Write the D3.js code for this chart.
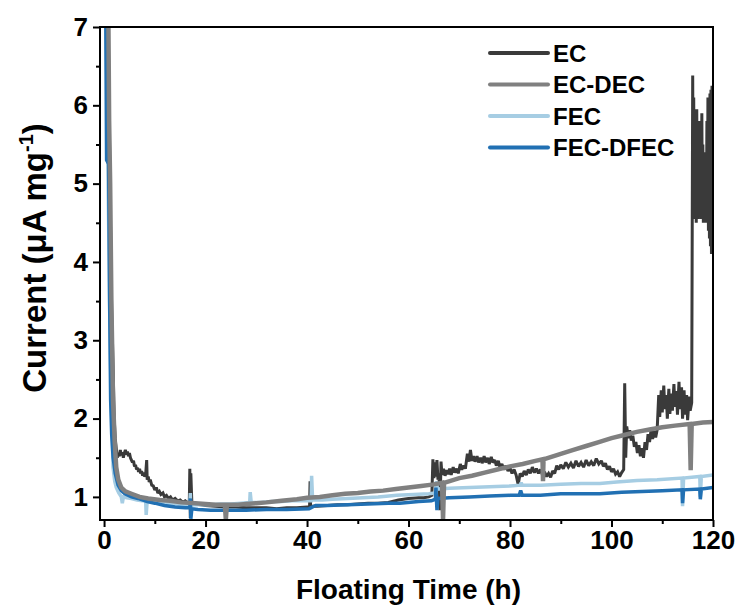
<!DOCTYPE html>
<html>
<head>
<meta charset="utf-8">
<script src="https://cdn.jsdelivr.net/npm/d3@7"></script>
<style>
  html, body { margin: 0; padding: 0; background: #fff; }
  svg { display: block; font-family: "Liberation Sans", Arial, sans-serif; font-weight: bold; }
</style>
</head>
<body>
<svg id="chart" width="740" height="612"></svg>
<script>
// Floating current (µA mg⁻¹) versus floating time (h), [time, current] pairs per electrolyte
const EC = [
  [0.3, 7.6], [0.8, 7.2], [1.2, 4.8], [1.5, 3.4], [1.8, 2.6], [2.0, 2.0], [2.2, 1.75], [2.4, 1.62],
  [2.6, 1.5], [2.8, 1.56], [3.0, 1.52], [3.2, 1.6], [3.4, 1.53], [3.6, 1.57], [3.8, 1.5], [4.0, 1.56],
  [4.2, 1.6], [4.4, 1.54], [4.6, 1.58], [4.8, 1.52], [5.0, 1.56], [5.2, 1.5], [5.4, 1.47], [5.6, 1.44],
  [5.8, 1.46], [6.0, 1.39], [6.2, 1.41], [6.4, 1.35], [6.6, 1.37], [6.8, 1.32], [7.0, 1.36], [7.2, 1.3],
  [7.4, 1.33], [7.6, 1.27], [7.8, 1.31], [8.0, 1.26], [8.2, 1.29], [8.4, 1.47], [8.5, 1.22], [8.7, 1.26],
  [8.9, 1.19], [9.1, 1.22], [9.4, 1.15], [9.7, 1.14], [10.0, 1.09], [10.3, 1.12], [10.6, 1.05], [10.9, 1.07],
  [11.2, 1.03], [11.6, 1.05], [11.9, 1.0], [12.3, 1.02], [12.7, 0.98], [13.1, 1.0], [13.5, 0.96], [14, 0.98],
  [14.5, 0.95], [15, 0.96], [15.5, 0.93], [16, 0.95], [16.5, 0.92], [16.8, 0.93], [16.9, 1.36], [17.0, 0.73],
  [17.1, 1.3], [17.3, 0.92], [18, 0.91], [19, 0.9], [20, 0.89], [22, 0.88], [24, 0.87], [26, 0.87],
  [28, 0.86], [30, 0.86], [32, 0.86], [34, 0.85], [36, 0.86], [38, 0.86], [40, 0.87], [40.5, 0.87],
  [40.6, 1.2], [40.7, 0.88], [42, 0.88], [44, 0.89], [46, 0.9], [48, 0.9], [50, 0.91], [52, 0.92],
  [54, 0.92], [56, 0.93], [58, 0.96], [60, 0.98], [62, 0.99], [63, 0.99], [64, 1.0], [64.6, 1.02],
  [64.8, 1.48], [65.0, 1.24], [65.2, 1.44], [65.4, 1.26], [65.6, 1.47], [65.8, 1.22], [66.0, 1.3], [66.2, 0.83],
  [66.4, 1.45], [66.6, 1.28], [66.9, 1.36], [67.2, 1.27], [67.5, 1.34], [67.8, 1.29], [68.1, 1.36], [68.4, 1.28],
  [68.8, 1.38], [69.1, 1.31], [69.5, 1.36], [69.8, 1.3], [70.2, 1.42], [70.5, 1.35], [70.9, 1.4], [71.2, 1.36],
  [71.6, 1.55], [71.9, 1.45], [72.2, 1.6], [72.5, 1.46], [72.8, 1.52], [73.1, 1.45], [73.5, 1.52], [73.8, 1.44],
  [74.2, 1.5], [74.5, 1.43], [74.9, 1.52], [75.2, 1.44], [75.6, 1.5], [75.9, 1.42], [76.3, 1.51], [76.6, 1.44],
  [77, 1.47], [77.3, 1.4], [77.7, 1.46], [78, 1.38], [78.4, 1.42], [78.8, 1.35], [79.2, 1.4], [79.6, 1.33],
  [80, 1.37], [80.4, 1.3], [80.8, 1.35], [81.2, 1.28], [81.6, 1.16], [82, 1.3], [82.4, 1.26], [82.8, 1.33],
  [83.2, 1.28], [83.6, 1.35], [84, 1.3], [84.4, 1.38], [84.8, 1.31], [85.2, 1.36], [85.6, 1.3], [86, 1.35],
  [86.4, 1.28], [86.8, 1.32], [87.2, 1.26], [87.6, 1.3], [88, 1.25], [88.4, 1.33], [88.8, 1.3], [89.2, 1.4],
  [89.6, 1.35], [90, 1.41], [90.5, 1.36], [91, 1.44], [91.5, 1.38], [92, 1.43], [92.5, 1.37], [93, 1.46],
  [93.5, 1.39], [94, 1.44], [94.5, 1.38], [95, 1.47], [95.5, 1.4], [96, 1.45], [96.5, 1.4], [97, 1.49],
  [97.5, 1.42], [98, 1.46], [98.4, 1.39], [98.8, 1.43], [99.2, 1.35], [99.6, 1.39], [100, 1.32], [100.4, 1.36],
  [100.8, 1.29], [101.2, 1.32], [101.6, 1.26], [102, 1.31], [102.4, 1.35], [102.6, 2.45], [102.8, 1.5], [103.0, 1.9],
  [103.3, 1.75], [103.6, 1.85], [103.9, 1.72], [104.2, 1.78], [104.5, 1.64], [104.8, 1.7], [105.1, 1.56], [105.4, 1.66],
  [105.7, 1.52], [106, 1.62], [106.3, 1.5], [106.6, 1.7], [106.9, 1.6], [107.2, 1.8], [107.5, 1.7], [107.8, 1.86],
  [108.1, 1.74], [108.4, 1.84], [108.7, 1.76], [109, 1.86], [109.3, 2.3], [109.5, 2.02], [109.8, 2.36], [110.0, 2.08],
  [110.3, 2.42], [110.5, 2.12], [110.8, 2.3], [111.0, 2.0], [111.3, 2.38], [111.5, 2.06], [111.8, 2.32], [112.0, 2.1],
  [112.3, 2.44], [112.5, 2.15], [112.8, 2.35], [113.0, 2.05], [113.3, 2.47], [113.5, 2.12], [113.8, 2.4], [114.0, 2.0],
  [114.3, 2.36], [114.5, 2.05], [114.8, 2.3], [115.0, 1.98], [115.3, 2.28], [115.5, 2.1], [115.8, 2.2], [116.0, 6.38],
  [116.1, 4.6], [116.2, 6.1], [116.3, 4.55], [116.4, 5.9], [116.5, 4.7], [116.6, 5.85], [116.7, 4.5], [116.8, 5.95],
  [116.9, 4.6], [117.0, 5.7], [117.1, 4.55], [117.2, 5.8], [117.3, 4.6], [117.4, 5.5], [117.5, 4.7], [117.6, 5.6],
  [117.7, 4.55], [117.8, 5.9], [117.9, 4.6], [118.0, 5.5], [118.1, 4.5], [118.2, 5.3], [118.3, 4.6], [118.4, 5.4],
  [118.5, 4.5], [118.6, 5.2], [118.7, 4.6], [118.8, 5.8], [118.9, 4.5], [119.0, 6.1], [119.1, 4.4], [119.2, 6.0],
  [119.3, 4.3], [119.4, 6.15], [119.5, 4.2], [119.6, 6.2], [119.7, 4.1], [119.8, 6.25], [119.9, 4.15], [120, 6.2]
];

const EC_DEC = [
  [0.8, 7.6], [1.0, 5.8], [1.2, 5.0], [1.44, 3.5], [1.77, 2.23], [2.1, 1.7], [2.4, 1.38], [2.8, 1.22],
  [3.4, 1.12], [4.2, 1.07], [5.4, 1.04], [7, 1.0], [8.7, 0.98], [11, 0.96], [13, 0.95], [15.2, 0.93],
  [18, 0.92], [20, 0.91], [22, 0.9], [23.8, 0.9], [24.0, 0.71], [24.2, 0.9], [26.4, 0.9], [28, 0.91],
  [30, 0.92], [32, 0.93], [35, 0.95], [38, 0.97], [40, 0.99], [42.5, 1.0], [45, 1.02], [47.5, 1.04],
  [50, 1.05], [52.5, 1.07], [55, 1.08], [57.5, 1.1], [60, 1.12], [62.5, 1.14], [65, 1.16], [66.6, 1.18],
  [66.8, 0.71], [67.0, 1.18], [70, 1.24], [72.5, 1.27], [75, 1.31], [77.5, 1.35], [80, 1.39], [82.5, 1.42],
  [85, 1.46], [86.4, 1.48], [86.5, 1.2], [86.6, 1.48], [90, 1.55], [92.5, 1.6], [95, 1.65], [97.5, 1.7],
  [100, 1.75], [102.5, 1.79], [105, 1.83], [107.5, 1.86], [110, 1.89], [112.5, 1.91], [115.4, 1.93], [115.6, 1.34],
  [115.8, 1.93], [118, 1.95], [120, 1.955]
];

const FEC = [
  [0.3, 7.6], [0.6, 6.0], [0.9, 4.5], [1.1, 3.4], [1.4, 2.3], [1.77, 1.38], [2.1, 1.2], [2.4, 1.12],
  [2.9, 1.05], [3.4, 1.0], [3.6, 0.92], [3.8, 1.0], [4.5, 0.99], [5.4, 0.98], [6.5, 0.96], [7.5, 0.95],
  [8.2, 0.95], [8.3, 0.77], [8.5, 0.95], [10, 0.93], [12, 0.92], [14, 0.91], [16, 0.9], [16.9, 0.9],
  [17.0, 1.05], [17.1, 0.75], [17.3, 0.9], [19, 0.9], [21, 0.9], [23, 0.91], [25, 0.91], [27, 0.92],
  [28.7, 0.93], [28.8, 1.06], [29.0, 0.93], [31, 0.93], [33, 0.94], [35, 0.94], [37, 0.95], [39, 0.95],
  [40.8, 0.95], [40.9, 1.27], [41.1, 0.96], [43, 0.96], [45, 0.97], [48, 0.98], [51, 0.99], [54, 1.0],
  [57.7, 1.02], [61, 1.03], [64, 1.04], [65.3, 1.05], [65.5, 1.2], [65.7, 1.1], [68, 1.11], [72, 1.12],
  [76, 1.13], [80, 1.14], [82, 1.15], [82.2, 1.18], [82.4, 1.15], [86, 1.15], [90, 1.16], [94, 1.17],
  [97.7, 1.17], [101, 1.19], [105, 1.21], [109, 1.22], [113.9, 1.24], [114.0, 0.88], [114.2, 1.24], [117.4, 1.26],
  [117.5, 1.0], [117.7, 1.26], [120, 1.28]
];

const FEC_DFEC = [
  [0.3, 7.6], [0.5, 5.3], [0.9, 5.25], [1.1, 3.5], [1.3, 2.23], [1.5, 1.8], [1.77, 1.51], [2.2, 1.3],
  [2.76, 1.15], [3.4, 1.08], [4.1, 1.04], [5.4, 1.0], [6.7, 0.98], [8.5, 0.94], [10, 0.92], [11.9, 0.89],
  [14, 0.87], [16, 0.86], [16.9, 0.86], [17.0, 0.98], [17.1, 0.72], [17.3, 0.85], [18.5, 0.84], [21, 0.83],
  [24.8, 0.83], [28, 0.83], [32, 0.84], [36, 0.84], [40.4, 0.85], [41.7, 0.89], [44, 0.89], [48, 0.9],
  [52, 0.91], [56, 0.92], [58.3, 0.92], [62, 0.94], [64.5, 0.95], [65.3, 0.97], [65.4, 1.12], [65.6, 0.83],
  [65.8, 0.98], [68, 0.99], [72, 1.0], [76, 1.01], [80, 1.02], [81.8, 1.02], [82.1, 1.08], [82.4, 1.02],
  [86, 1.02], [88, 1.03], [90, 1.04], [94, 1.04], [97.7, 1.04], [102, 1.06], [106, 1.07], [110, 1.08],
  [113.9, 1.09], [114.0, 0.92], [114.2, 1.09], [117.4, 1.1], [117.5, 0.97], [117.7, 1.1], [120, 1.12]
];

const seriesNames = ["EC", "EC-DEC", "FEC", "FEC-DFEC"];
const seriesColors = ["#3a3a3a", "#808080", "#a6cde3", "#2170b3"];
const seriesWidths = [3, 4.5, 3.5, 3.5];
const seriesData = [EC, EC_DEC, FEC, FEC_DFEC];
// EC first, EC-DEC last so the grey trace sits on top
const drawOrder = [0, 2, 3, 1];

const xMajorTicks = [0, 20, 40, 60, 80, 100, 120];
const xMinorTicks = [10, 30, 50, 70, 90, 110];
const yMajorTicks = [1, 2, 3, 4, 5, 6, 7];
const yMinorTicks = [1.5, 2.5, 3.5, 4.5, 5.5, 6.5];

const svg = d3.select("#chart");
const plot = { left: 100, right: 713, top: 27, bottom: 520 };

const x = d3.scaleLinear().domain([-0.8, 120]).range([plot.left, plot.right]);
const y = d3.scaleLinear().domain([0.705, 7]).range([plot.bottom, plot.top]);

svg.append("defs").append("clipPath").attr("id", "plot-clip")
  .append("rect")
  .attr("x", plot.left).attr("y", plot.top)
  .attr("width", plot.right - plot.left).attr("height", plot.bottom - plot.top);

const line = d3.line().x(d => x(d[0])).y(d => y(d[1]));

const traces = svg.append("g").attr("clip-path", "url(#plot-clip)");
drawOrder.forEach(i => {
  traces.append("path")
    .datum(seriesData[i])
    .attr("fill", "none")
    .attr("stroke", seriesColors[i])
    .attr("stroke-width", seriesWidths[i])
    .attr("stroke-linejoin", "miter")
    .attr("stroke-miterlimit", 2)
    .attr("d", line);
});

// Frame
svg.append("rect")
  .attr("x", plot.left).attr("y", plot.top)
  .attr("width", plot.right - plot.left).attr("height", plot.bottom - plot.top)
  .attr("fill", "none").attr("stroke", "#000").attr("stroke-width", 2);

// Bottom axis
const xAxis = svg.append("g").attr("transform", `translate(0,${plot.bottom})`)
  .call(d3.axisBottom(x).tickValues(xMajorTicks).tickSize(7).tickPadding(4).tickFormat(d3.format("d")));
svg.append("g").attr("transform", `translate(0,${plot.bottom})`)
  .call(d3.axisBottom(x).tickValues(xMinorTicks).tickSize(4).tickFormat(""));

// Left axis
const yAxis = svg.append("g").attr("transform", `translate(${plot.left},0)`)
  .call(d3.axisLeft(y).tickValues(yMajorTicks).tickSize(7).tickPadding(5).tickFormat(d3.format("d")));
svg.append("g").attr("transform", `translate(${plot.left},0)`)
  .call(d3.axisLeft(y).tickValues(yMinorTicks).tickSize(4).tickFormat(""));

svg.selectAll(".domain").remove();
svg.selectAll(".tick line").attr("stroke", "#000").attr("stroke-width", 2);
svg.selectAll(".tick text").attr("font-size", 26).attr("font-weight", "bold").attr("fill", "#000")
  .attr("font-family", "Liberation Sans, Arial, sans-serif");

// Axis titles
svg.append("text")
  .attr("x", (plot.left + plot.right) / 2 + 2).attr("y", 599)
  .attr("text-anchor", "middle").attr("font-size", 28)
  .text("Floating Time (h)");

const yTitle = svg.append("text")
  .attr("transform", "translate(46,258) rotate(-90)")
  .attr("text-anchor", "middle").attr("font-size", 33);
yTitle.append("tspan").text("Current (\u03bcA mg");
yTitle.append("tspan").attr("font-size", 20).attr("dy", -13).text("-1");
yTitle.append("tspan").attr("dy", 13).text(")");

// Legend
const legend = svg.append("g");
seriesNames.forEach((name, i) => {
  const ly = 53 + i * 31.5;
  legend.append("line")
    .attr("x1", 490).attr("x2", 548).attr("y1", ly).attr("y2", ly)
    .attr("stroke", seriesColors[i]).attr("stroke-width", 4).attr("stroke-linecap", "round");
  legend.append("text")
    .attr("x", 553).attr("y", ly).attr("dy", "0.36em")
    .attr("font-size", 24)
    .text(name);
});
</script>
</body>
</html>
